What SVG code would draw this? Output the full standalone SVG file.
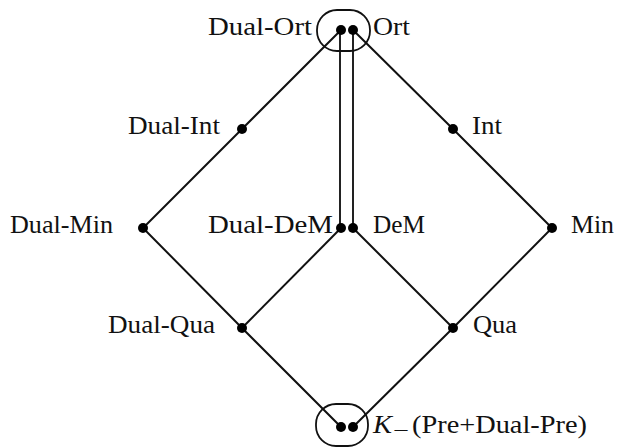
<svg xmlns="http://www.w3.org/2000/svg" width="618" height="447" viewBox="0 0 618 447">
<style>
.e{stroke:#111;stroke-width:2;fill:none}
.v{stroke:#222;stroke-width:2;fill:none}
.d{fill:#000}
.t{font-family:"Liberation Serif","Times New Roman",serif;font-size:25px;fill:#111}
.l{text-anchor:end}
.box{stroke:#111;stroke-width:1.8;fill:none}
</style>
<rect width="618" height="447" fill="#fff"/>
<g id="connectors">
<polyline class="e" points="341,30 242,129 143,228 242,328 341,427"/>
<polyline class="e" points="353,30 453,129 552,228 453,328 353,427"/>
<line class="v" x1="340" y1="30" x2="340" y2="228"/>
<line class="v" x1="353" y1="30" x2="353" y2="228"/>
<line class="e" x1="341" y1="228" x2="242" y2="328"/>
<line class="e" x1="353" y1="228" x2="453" y2="328"/>
</g>
<g id="top-group"><rect class="box" x="317" y="10" width="53" height="41" rx="20" ry="20"/></g>
<g id="bottom-group"><rect class="box" x="316" y="404" width="52" height="42" rx="20" ry="20"/></g>
<g id="dual-ort"><circle class="d" cx="341" cy="30" r="5"/><text class="t l" x="312" y="35" textLength="104" lengthAdjust="spacingAndGlyphs">Dual-Ort</text></g>
<g id="ort"><circle class="d" cx="353" cy="30" r="5"/><text class="t" x="373" y="35" textLength="37" lengthAdjust="spacingAndGlyphs">Ort</text></g>
<g id="dual-int"><circle class="d" cx="242" cy="129" r="5"/><text class="t l" x="220" y="134" textLength="92" lengthAdjust="spacingAndGlyphs">Dual-Int</text></g>
<g id="int"><circle class="d" cx="453" cy="129" r="5"/><text class="t" x="472" y="134" textLength="30" lengthAdjust="spacingAndGlyphs">Int</text></g>
<g id="dual-min"><circle class="d" cx="143" cy="228" r="5"/><text class="t l" x="113" y="233" textLength="103" lengthAdjust="spacingAndGlyphs">Dual-Min</text></g>
<g id="dual-dem"><circle class="d" cx="341" cy="228" r="5"/><text class="t l" x="333" y="233" textLength="125" lengthAdjust="spacingAndGlyphs">Dual-DeM</text></g>
<g id="dem"><circle class="d" cx="353" cy="228" r="5"/><text class="t" x="373" y="233" textLength="52" lengthAdjust="spacingAndGlyphs">DeM</text></g>
<g id="min"><circle class="d" cx="552" cy="228" r="5"/><text class="t" x="571" y="233" textLength="43" lengthAdjust="spacingAndGlyphs">Min</text></g>
<g id="dual-qua"><circle class="d" cx="242" cy="328" r="5"/><text class="t l" x="215" y="333" textLength="107" lengthAdjust="spacingAndGlyphs">Dual-Qua</text></g>
<g id="qua"><circle class="d" cx="453" cy="328" r="5"/><text class="t" x="473" y="333" textLength="44" lengthAdjust="spacingAndGlyphs">Qua</text></g>
<g id="k-minus"><circle class="d" cx="341" cy="427" r="5"/><circle class="d" cx="353" cy="427" r="5"/><text class="t" x="373" y="433"><tspan font-style="italic" textLength="19" lengthAdjust="spacingAndGlyphs">K</tspan><tspan x="393" dy="4" font-size="20" textLength="16" lengthAdjust="spacingAndGlyphs">−</tspan><tspan x="412" dy="-4" textLength="175" lengthAdjust="spacingAndGlyphs">(Pre+Dual-Pre)</tspan></text></g>
</svg>
